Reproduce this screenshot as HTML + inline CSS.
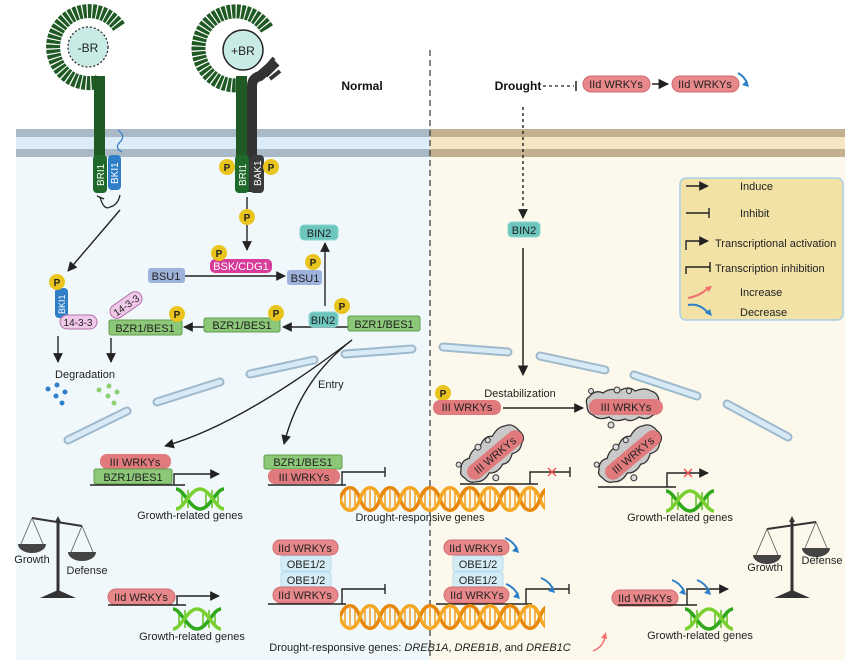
<!DOCTYPE html>
<html><head><meta charset="utf-8"><style>
html,body{margin:0;padding:0;background:#fff;}
svg{display:block;font-family:"Liberation Sans",Arial,sans-serif;}
</style></head><body>
<svg width="860" height="664" viewBox="0 0 860 664" xmlns="http://www.w3.org/2000/svg">
<defs>
<pattern id="dnaO" patternUnits="userSpaceOnUse" x="340" y="486" width="40" height="26">
 <g stroke="#f0a020" stroke-width="1.5"><line x1="5" y1="6" x2="5" y2="20"/><line x1="10" y1="4" x2="10" y2="22"/><line x1="15" y1="6" x2="15" y2="20"/><line x1="25" y1="6" x2="25" y2="20"/><line x1="30" y1="4" x2="30" y2="22"/><line x1="35" y1="6" x2="35" y2="20"/></g>
 <path d="M0 13 C5 -2 15 -2 20 13 S35 28 40 13" fill="none" stroke="#e8870a" stroke-width="3.5"/>
 <path d="M0 13 C5 28 15 28 20 13 S35 -2 40 13" fill="none" stroke="#f5a623" stroke-width="3.5"/>
</pattern>
<pattern id="dnaO2" patternUnits="userSpaceOnUse" x="340" y="604" width="40" height="26">
 <g stroke="#f0a020" stroke-width="1.5"><line x1="5" y1="6" x2="5" y2="20"/><line x1="10" y1="4" x2="10" y2="22"/><line x1="15" y1="6" x2="15" y2="20"/><line x1="25" y1="6" x2="25" y2="20"/><line x1="30" y1="4" x2="30" y2="22"/><line x1="35" y1="6" x2="35" y2="20"/></g>
 <path d="M0 13 C5 -2 15 -2 20 13 S35 28 40 13" fill="none" stroke="#e8870a" stroke-width="3.5"/>
 <path d="M0 13 C5 28 15 28 20 13 S35 -2 40 13" fill="none" stroke="#f5a623" stroke-width="3.5"/>
</pattern>
<g id="dnaG">
 <g stroke="#5cc020" stroke-width="1.5"><line x1="6" y1="5" x2="6" y2="19"/><line x1="12" y1="3" x2="12" y2="21"/><line x1="30" y1="5" x2="30" y2="19"/><line x1="36" y1="3" x2="36" y2="21"/><line x1="42" y1="5" x2="42" y2="19"/></g>
 <path d="M0 2 C8 2 14 22 24 22 S40 2 48 2" fill="none" stroke="#2fa81a" stroke-width="3.5"/>
 <path d="M0 22 C8 22 14 2 24 2 S40 22 48 22" fill="none" stroke="#7ad030" stroke-width="3.5"/>
</g>
<marker id="ar" viewBox="0 0 10 10" refX="9" refY="5" markerWidth="7" markerHeight="7" orient="auto-start-reverse"><path d="M0 0 L10 5 L0 10 z" fill="#222"/></marker>
<g id="scale">
 <line x1="0" y1="-48" x2="0" y2="28" stroke="#333" stroke-width="3"/>
 <path d="M0 -52 l-3 6 h6 z" fill="#333"/>
 <path d="M-18 30 L18 30 L0 22 z" fill="#333"/>
</g>
<g id="blob">
 <path d="M-36 -10 q6 -8 14 -4 q8 -6 16 -2 q10 -6 16 0 q10 -4 16 0 q8 2 8 12 q2 10 -6 12 q-6 6 -14 2 q-8 6 -14 2 q-10 4 -16 -2 q-10 4 -16 -2 q-6 -2 -6 -10 q-2 -6 2 -8z" fill="#c9c9c9" stroke="#333" stroke-width="1.3"/>
 <circle cx="-34" cy="-16" r="2.5" fill="#ddd" stroke="#333"/><circle cx="-8" cy="-17" r="3" fill="#ddd" stroke="#333"/><circle cx="4" cy="-16" r="2.5" fill="#ddd" stroke="#333"/><circle cx="-14" cy="18" r="3" fill="#ddd" stroke="#333"/>
</g>
</defs>

<!-- backgrounds -->
<rect x="16" y="129" width="414" height="531" fill="#f1f8fc"/>
<rect x="430" y="129" width="415" height="531" fill="#fcf9ec"/>
<rect x="16" y="129" width="414" height="8" fill="#aab9c6"/>
<rect x="16" y="137" width="414" height="12" fill="#dcedf9"/>
<rect x="16" y="149" width="414" height="8" fill="#aab9c6"/>
<rect x="430" y="129" width="415" height="8" fill="#c2b08e"/>
<rect x="430" y="137" width="415" height="12" fill="#f5e6c3"/>
<rect x="430" y="149" width="415" height="8" fill="#c2b08e"/>
<line x1="430" y1="50" x2="430" y2="660" stroke="#444" stroke-width="1.3" stroke-dasharray="6,4"/>

<!-- nuclear envelope -->
<g stroke="#9fb9cc" stroke-width="9" stroke-linecap="round" fill="none">
<line x1="68" y1="440" x2="127" y2="411"/><line x1="157" y1="402" x2="220" y2="382"/><line x1="250" y1="374" x2="314" y2="360"/><line x1="345" y1="354" x2="412" y2="349"/>
<line x1="443" y1="347" x2="508" y2="352"/><line x1="540" y1="356" x2="605" y2="370"/><line x1="634" y1="375" x2="697" y2="396"/><line x1="727" y1="404" x2="788" y2="437"/>
</g>
<g stroke="#d8eaf6" stroke-width="5" stroke-linecap="round" fill="none">
<line x1="68" y1="440" x2="127" y2="411"/><line x1="157" y1="402" x2="220" y2="382"/><line x1="250" y1="374" x2="314" y2="360"/><line x1="345" y1="354" x2="412" y2="349"/>
<line x1="443" y1="347" x2="508" y2="352"/><line x1="540" y1="356" x2="605" y2="370"/><line x1="634" y1="375" x2="697" y2="396"/><line x1="727" y1="404" x2="788" y2="437"/>
</g>

<!-- receptor -BR -->
<path d="M119 27 A36 36 0 1 0 98 82" fill="none" stroke="#1f5a24" stroke-width="14" stroke-dasharray="3.5,1.2"/>
<circle cx="88" cy="47" r="20" fill="#c8ebe6" stroke="#222" stroke-width="1.2" stroke-dasharray="2,2"/>
<text x="88" y="52" font-size="12" text-anchor="middle" fill="#222">-BR</text>
<rect x="94" y="76" width="11" height="110" fill="#1f5a24"/>
<path d="M118 130 q8 6 2 12 q-6 6 2 10" fill="none" stroke="#3a80c8" stroke-width="1.3"/>
<rect x="93" y="155" width="14" height="38" rx="4" fill="#1f6a2a"/>
<rect x="108" y="155" width="13" height="35" rx="4" fill="#2f7fc8"/>
<text transform="translate(104,186) rotate(-90)" font-size="10" fill="#fff">BRI1</text>
<text transform="translate(118,184) rotate(-90)" font-size="10" fill="#fff">BKI1</text>
<path d="M100 197 q4 14 10 10 q8 -2 10 -12" fill="none" stroke="#222" stroke-width="1.3"/>
<line x1="97" y1="196" x2="104" y2="199" stroke="#222" stroke-width="1.3"/>

<!-- receptor +BR -->
<path d="M267 29 A37 37 0 1 0 241 85" fill="none" stroke="#1f5a24" stroke-width="14" stroke-dasharray="3.5,1.2"/>
<circle cx="243" cy="50" r="20" fill="#c8ebe6" stroke="#222" stroke-width="1.5"/>
<text x="243" y="55" font-size="12" text-anchor="middle" fill="#222">+BR</text>
<rect x="236" y="76" width="11" height="110" fill="#1f5a24"/>
<path d="M252 192 V86 q0 -8 8 -10 l16 -14" fill="none" stroke="#333" stroke-width="10"/>
<path d="M262 72 l12 -14 M266 76 l12 -12 M270 79 l10 -8" stroke="#333" stroke-width="4"/>
<rect x="235" y="155" width="14" height="38" rx="4" fill="#1f6a2a"/>
<rect x="250" y="155" width="14" height="38" rx="4" fill="#3a3a3a"/>
<text transform="translate(246,186) rotate(-90)" font-size="10" fill="#fff">BRI1</text>
<text transform="translate(261,186) rotate(-90)" font-size="10" fill="#fff">BAK1</text>

<g font-size="10" text-anchor="middle" font-weight="bold" fill="#222">
<circle cx="227" cy="167" r="8" fill="#e8c41c"/><text x="227" y="171">P</text>
<circle cx="271" cy="167" r="8" fill="#e8c41c"/><text x="271" y="171">P</text>
</g>

<text x="362" y="90" font-size="12" font-weight="bold" text-anchor="middle" fill="#111">Normal</text>

<!-- signaling arrows -->
<g stroke="#222" stroke-width="1.4" fill="none" marker-end="url(#ar)">
<line x1="247" y1="197" x2="247" y2="250"/>
<line x1="185" y1="276" x2="285" y2="276"/>
<line x1="325" y1="306" x2="325" y2="243"/>
<line x1="348" y1="327" x2="283" y2="327"/>
<line x1="204" y1="327" x2="184" y2="327"/>
<line x1="120" y1="210" x2="68" y2="271"/>
<line x1="58" y1="336" x2="58" y2="362"/>
<line x1="111" y1="338" x2="111" y2="362"/>
<path d="M352 340 Q240 425 165 446"/>
<path d="M352 340 Q300 380 284 444"/>
</g>
<text x="318" y="388" font-size="11" fill="#222">Entry</text>

<!-- boxes -->
<g font-size="11" fill="#222" text-anchor="middle">
<rect x="300" y="225" width="38" height="15" rx="4" fill="#6cc6bd" stroke="#8ad8cf"/><text x="319" y="237">BIN2</text>
<rect x="210" y="259" width="62" height="14" rx="5" fill="#d83c9a"/><text x="241" y="270" fill="#fff">BSK/CDG1</text>
<rect x="148" y="268" width="37" height="15" rx="3" fill="#9db3dc"/><text x="166" y="280">BSU1</text>
<rect x="287" y="270" width="35" height="15" rx="3" fill="#9db3dc"/><text x="305" y="282">BSU1</text>
<rect x="309" y="312" width="29" height="15" rx="4" fill="#6cc6bd" stroke="#8ad8cf"/><text x="323" y="324">BIN2</text>
<rect x="348" y="316" width="72" height="15" rx="2" fill="#8cc878" stroke="#5e9e4c"/><text x="384" y="328">BZR1/BES1</text>
<rect x="204" y="318" width="76" height="14" rx="2" fill="#8cc878" stroke="#5e9e4c"/><text x="242" y="329">BZR1/BES1</text>
<rect x="109" y="320" width="73" height="15" rx="2" fill="#8cc878" stroke="#5e9e4c"/><text x="145" y="332">BZR1/BES1</text>
<rect x="55" y="288" width="13" height="30" rx="4" fill="#2f7fc8"/>
<text transform="translate(65,314) rotate(-90)" font-size="9" fill="#fff" text-anchor="start">BKI1</text>
<rect x="60" y="315" width="37" height="14" rx="7" fill="#f0c8e8" stroke="#b070a8"/><text x="78" y="326" font-size="10">14-3-3</text>
<g transform="translate(126,305) rotate(-35)"><rect x="-18" y="-7" width="36" height="14" rx="7" fill="#f0c8e8" stroke="#b070a8"/><text x="0" y="4" font-size="10">14-3-3</text></g>
</g>
<g font-size="10" text-anchor="middle" font-weight="bold" fill="#222">
<circle cx="247" cy="217" r="8" fill="#e8c41c"/><text x="247" y="221">P</text>
<circle cx="219" cy="253" r="8" fill="#e8c41c"/><text x="219" y="257">P</text>
<circle cx="313" cy="262" r="8" fill="#e8c41c"/><text x="313" y="266">P</text>
<circle cx="342" cy="306" r="8" fill="#e8c41c"/><text x="342" y="310">P</text>
<circle cx="276" cy="313" r="8" fill="#e8c41c"/><text x="276" y="317">P</text>
<circle cx="177" cy="314" r="8" fill="#e8c41c"/><text x="177" y="318">P</text>
<circle cx="57" cy="282" r="8" fill="#e8c41c"/><text x="57" y="286">P</text>
<circle cx="443" cy="393" r="8" fill="#e8c41c"/><text x="443" y="397">P</text>
</g>
<text x="85" y="378" font-size="11" text-anchor="middle" fill="#222">Degradation</text>
<g fill="#2f7fc8"><circle cx="48" cy="389" r="2.5"/><circle cx="57" cy="385" r="2.5"/><circle cx="65" cy="392" r="2.5"/><circle cx="56" cy="396" r="2.5"/><circle cx="62" cy="403" r="2.5"/></g>
<g fill="#8cd070"><circle cx="99" cy="390" r="2.5"/><circle cx="109" cy="386" r="2.5"/><circle cx="117" cy="392" r="2.5"/><circle cx="108" cy="396" r="2.5"/><circle cx="114" cy="403" r="2.5"/></g>

<!-- drought top -->
<text x="518" y="90" font-size="12" font-weight="bold" text-anchor="middle" fill="#111">Drought</text>
<line x1="543" y1="86" x2="574" y2="86" stroke="#222" stroke-width="1.3" stroke-dasharray="3,3"/>
<line x1="576" y1="81" x2="576" y2="91" stroke="#222" stroke-width="1.5"/>
<g font-size="11" fill="#222" text-anchor="middle">
<rect x="583" y="76" width="67" height="16" rx="8" fill="#e8888a" stroke="#d06c70"/><text x="616" y="88">IId WRKYs</text>
<rect x="672" y="76" width="67" height="16" rx="8" fill="#e8888a" stroke="#d06c70"/><text x="705" y="88">IId WRKYs</text>
</g>
<line x1="652" y1="84" x2="668" y2="84" stroke="#222" stroke-width="1.5" marker-end="url(#ar)"/>
<line x1="523" y1="107" x2="523" y2="218" stroke="#222" stroke-width="1.4" stroke-dasharray="3,3" marker-end="url(#ar)"/>
<rect x="508" y="222" width="32" height="15" rx="4" fill="#6cc6bd" stroke="#8ad8cf"/><text x="524" y="234" font-size="11" text-anchor="middle" fill="#222">BIN2</text>
<line x1="523" y1="248" x2="523" y2="375" stroke="#222" stroke-width="1.5" marker-end="url(#ar)"/>

<!-- legend -->
<rect x="680" y="178" width="163" height="142" rx="6" fill="#f2e2a6" stroke="#a8d0ea" stroke-width="1.5"/>
<g font-size="11" fill="#222">
<line x1="686" y1="186" x2="708" y2="186" stroke="#222" stroke-width="1.4" marker-end="url(#ar)"/><text x="740" y="190">Induce</text>
<line x1="686" y1="213" x2="709" y2="213" stroke="#222" stroke-width="1.4"/><line x1="709" y1="208" x2="709" y2="218" stroke="#222" stroke-width="1.4"/><text x="740" y="217">Inhibit</text>
<path d="M686 250 V241 H708" fill="none" stroke="#222" stroke-width="1.4" marker-end="url(#ar)"/><text x="715" y="247">Transcriptional activation</text>
<path d="M686 274 V267 H710" fill="none" stroke="#222" stroke-width="1.4"/><line x1="710" y1="262" x2="710" y2="272" stroke="#222" stroke-width="1.4"/><text x="715" y="272">Transcription inhibition</text>
<path d="M688 298 q12 -2 20 -10" fill="none" stroke="#f07070" stroke-width="2"/><path d="M712 286 l-7 1 l4 5z" fill="#f07070"/><text x="740" y="296">Increase</text>
<path d="M688 305 q12 -2 20 8" fill="none" stroke="#2f7fc8" stroke-width="2"/><path d="M712 316 l-2 -7 l-5 4z" fill="#2f7fc8"/><text x="740" y="316">Decrease</text>
</g>

<!-- right nucleus -->
<rect x="433" y="400" width="68" height="15" rx="7" fill="#e07a7c"/><text x="467" y="411" font-size="11" text-anchor="middle" fill="#222">III WRKYs</text>
<text x="520" y="397" font-size="11" text-anchor="middle" fill="#222">Destabilization</text>
<line x1="503" y1="408" x2="583" y2="408" stroke="#222" stroke-width="1.4" marker-end="url(#ar)"/>
<use href="#blob" transform="translate(625,407)"/>
<rect x="589" y="399" width="74" height="16" rx="8" fill="#e07a7c"/><text x="626" y="411" font-size="11" text-anchor="middle" fill="#222">III WRKYs</text>
<g transform="translate(495,455) rotate(-40)"><use href="#blob"/><rect x="-34" y="-8" width="68" height="16" rx="8" fill="#e07a7c"/><text x="0" y="4" font-size="11" text-anchor="middle" fill="#222">III WRKYs</text></g>
<g transform="translate(633,455) rotate(-40)"><use href="#blob"/><rect x="-34" y="-8" width="68" height="16" rx="8" fill="#e07a7c"/><text x="0" y="4" font-size="11" text-anchor="middle" fill="#222">III WRKYs</text></g>
<line x1="460" y1="484" x2="538" y2="484" stroke="#222" stroke-width="1.4"/>
<path d="M530 484 V472 H570" fill="none" stroke="#222" stroke-width="1.4"/><line x1="570" y1="467" x2="570" y2="477" stroke="#222" stroke-width="1.4"/>
<path d="M548 468 l8 8 M556 468 l-8 8" stroke="#f05050" stroke-width="1.5"/>
<line x1="598" y1="487" x2="676" y2="487" stroke="#222" stroke-width="1.4"/>
<path d="M667 487 V473 H708" fill="none" stroke="#222" stroke-width="1.4" marker-end="url(#ar)"/>
<path d="M684 469 l8 8 M692 469 l-8 8" stroke="#f05050" stroke-width="1.5"/>
<use href="#dnaG" transform="translate(666,489)"/>
<text x="680" y="521" font-size="11" text-anchor="middle" fill="#222">Growth-related genes</text>

<!-- left middle -->
<rect x="100" y="454" width="71" height="15" rx="7" fill="#e07a7c"/><text x="135" y="466" font-size="11" text-anchor="middle" fill="#222">III WRKYs</text>
<rect x="94" y="469" width="78" height="15" rx="2" fill="#8cc878" stroke="#5e9e4c"/><text x="133" y="481" font-size="11" text-anchor="middle" fill="#222">BZR1/BES1</text>
<line x1="90" y1="485" x2="185" y2="485" stroke="#222" stroke-width="1.4"/>
<path d="M174 485 V474 H219" fill="none" stroke="#222" stroke-width="1.4" marker-end="url(#ar)"/>
<use href="#dnaG" transform="translate(176,487)"/>
<text x="190" y="519" font-size="11" text-anchor="middle" fill="#222">Growth-related genes</text>

<!-- middle -->
<rect x="264" y="455" width="78" height="14" rx="2" fill="#8cc878" stroke="#5e9e4c"/><text x="303" y="466" font-size="11" text-anchor="middle" fill="#222">BZR1/BES1</text>
<rect x="268" y="469" width="72" height="15" rx="7" fill="#e07a7c"/><text x="304" y="481" font-size="11" text-anchor="middle" fill="#222">III WRKYs</text>
<line x1="268" y1="485" x2="346" y2="485" stroke="#222" stroke-width="1.4"/>
<path d="M342 485 V472 H385" fill="none" stroke="#222" stroke-width="1.4"/><line x1="385" y1="467" x2="385" y2="477" stroke="#222" stroke-width="1.4"/>
<rect x="340" y="486" width="205" height="26" fill="url(#dnaO)"/>
<text x="420" y="521" font-size="11" text-anchor="middle" fill="#222">Drought-responsive genes</text>

<!-- scales -->
<g transform="translate(58,568)"><use href="#scale"/>
<line x1="-26" y1="-50" x2="24" y2="-42" stroke="#333" stroke-width="2"/>
<path d="M-26 -50 l-11 26 M-26 -50 l11 26 M24 -42 l-11 26 M24 -42 l11 26" stroke="#555" stroke-width="0.8"/>
<path d="M-40 -24 h28 a14 9 0 0 1 -28 0z M10 -16 h28 a14 9 0 0 1 -28 0z" fill="#444"/></g>
<text x="32" y="563" font-size="11" text-anchor="middle" fill="#222">Growth</text>
<text x="87" y="574" font-size="11" text-anchor="middle" fill="#222">Defense</text>
<g transform="translate(792,568)"><use href="#scale"/>
<line x1="-25" y1="-39" x2="24" y2="-46" stroke="#333" stroke-width="2"/>
<path d="M-25 -39 l-11 26 M-25 -39 l11 26 M24 -46 l-11 26 M24 -46 l11 26" stroke="#555" stroke-width="0.8"/>
<path d="M-39 -13 h28 a14 9 0 0 1 -28 0z M10 -20 h28 a14 9 0 0 1 -28 0z" fill="#444"/></g>
<text x="765" y="571" font-size="11" text-anchor="middle" fill="#222">Growth</text>
<text x="822" y="564" font-size="11" text-anchor="middle" fill="#222">Defense</text>

<!-- bottom left -->
<rect x="108" y="589" width="67" height="16" rx="8" fill="#e8888a" stroke="#d06c70"/><text x="141" y="601" font-size="11" text-anchor="middle" fill="#222">IId WRKYs</text>
<line x1="108" y1="605" x2="186" y2="605" stroke="#222" stroke-width="1.4"/>
<path d="M177 605 V596 H219" fill="none" stroke="#222" stroke-width="1.4" marker-end="url(#ar)"/>
<use href="#dnaG" transform="translate(173,607)"/>
<text x="192" y="640" font-size="11" text-anchor="middle" fill="#222">Growth-related genes</text>

<!-- bottom middle stacks -->
<g font-size="11" fill="#222" text-anchor="middle">
<rect x="273" y="540" width="65" height="15" rx="7" fill="#e8888a" stroke="#d06c70"/><text x="305" y="552">IId WRKYs</text>
<rect x="281" y="556" width="50" height="15" rx="2" fill="#d3ecf6" stroke="#b8dcec"/><text x="306" y="568">OBE1/2</text>
<rect x="281" y="572" width="50" height="15" rx="2" fill="#d3ecf6" stroke="#b8dcec"/><text x="306" y="584">OBE1/2</text>
<rect x="273" y="587" width="65" height="16" rx="8" fill="#e8888a" stroke="#d06c70"/><text x="305" y="599">IId WRKYs</text>
<rect x="444" y="540" width="65" height="15" rx="7" fill="#e8888a" stroke="#d06c70"/><text x="476" y="552">IId WRKYs</text>
<rect x="453" y="556" width="50" height="15" rx="2" fill="#d3ecf6" stroke="#b8dcec"/><text x="478" y="568">OBE1/2</text>
<rect x="453" y="572" width="50" height="15" rx="2" fill="#d3ecf6" stroke="#b8dcec"/><text x="478" y="584">OBE1/2</text>
<rect x="444" y="587" width="65" height="16" rx="8" fill="#e8888a" stroke="#d06c70"/><text x="477" y="599">IId WRKYs</text>
<rect x="612" y="590" width="66" height="16" rx="8" fill="#e8888a" stroke="#d06c70"/><text x="645" y="602">IId WRKYs</text>
</g>
<line x1="268" y1="604" x2="346" y2="604" stroke="#222" stroke-width="1.4"/>
<path d="M342 604 V589 H385" fill="none" stroke="#222" stroke-width="1.4"/><line x1="385" y1="584" x2="385" y2="594" stroke="#222" stroke-width="1.4"/>
<line x1="436" y1="604" x2="532" y2="604" stroke="#222" stroke-width="1.4"/>
<path d="M526 604 V589 H569" fill="none" stroke="#222" stroke-width="1.4"/><line x1="569" y1="584" x2="569" y2="594" stroke="#222" stroke-width="1.4"/>
<rect x="340" y="604" width="205" height="26" fill="url(#dnaO2)"/>
<line x1="618" y1="605" x2="697" y2="605" stroke="#222" stroke-width="1.4"/>
<path d="M687 605 V589 H728" fill="none" stroke="#222" stroke-width="1.4" marker-end="url(#ar)"/>
<use href="#dnaG" transform="translate(685,607)"/>
<text x="700" y="639" font-size="11" text-anchor="middle" fill="#222">Growth-related genes</text>
<text x="420" y="651" font-size="11" text-anchor="middle" fill="#222">Drought-responsive genes: <tspan font-style="italic">DREB1A</tspan>, <tspan font-style="italic">DREB1B</tspan>, and <tspan font-style="italic">DREB1C</tspan></text>

<!-- blue decrease arrows -->
<g fill="none" stroke="#2f7fc8" stroke-width="2">
<path d="M505 538 q8 3 12 11"/><path d="M506 584 q8 3 12 11"/><path d="M541 578 q8 3 12 11"/>
<path d="M672 580 q8 3 12 11"/><path d="M697 580 q8 3 12 11"/><path d="M738 73 q6 3 9 10"/>
</g>
<g fill="#2f7fc8">
<path d="M519 553 l-7 -2 l5 -5z"/><path d="M520 599 l-7 -2 l5 -5z"/><path d="M555 593 l-7 -2 l5 -5z"/>
<path d="M686 595 l-7 -2 l5 -5z"/><path d="M711 595 l-7 -2 l5 -5z"/><path d="M749 87 l-7 -2 l5 -5z"/>
</g>
<path d="M593 651 q10 -4 12 -14" fill="none" stroke="#f07070" stroke-width="1.5"/><path d="M606 632 l-5 6 l6 1z" fill="#f07070"/>
</svg>
</body></html>
